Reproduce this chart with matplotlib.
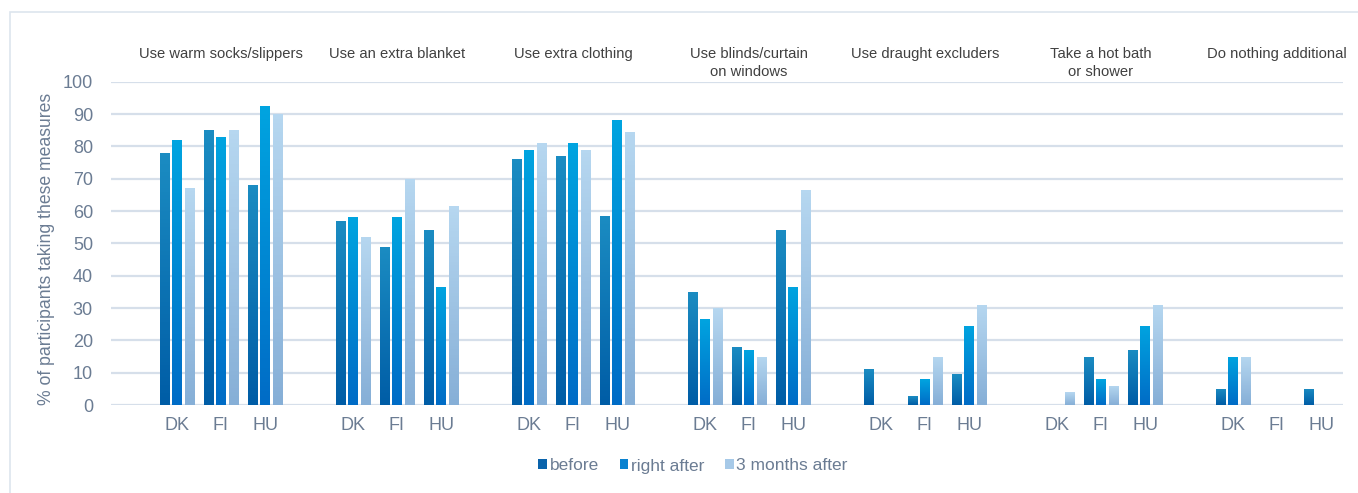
import numpy as np
import matplotlib
matplotlib.use("Agg")
import matplotlib.pyplot as plt
from matplotlib.colors import LinearSegmentedColormap
from matplotlib.patches import Rectangle, Patch

plt.rcParams["font.family"] = ["Liberation Sans", "DejaVu Sans"]

# ---------------------------------------------------------------------------
# Data
# ---------------------------------------------------------------------------
measures = ["Use warm socks/slippers", "Use an extra blanket", "Use extra clothing",
            "Use blinds/curtain\non windows", "Use draught excluders",
            "Take a hot bath\nor shower", "Do nothing additional"]
countries = ["DK", "FI", "HU"]
series = ["before", "right after", "3 months after"]

# one row per measure, columns DK, FI, HU
before = [[78, 85, 68],
          [57, 49, 54],
          [76, 77, 58.5],
          [35, 18, 54],
          [11, 2.7, 9.5],
          [0, 15, 17],
          [5, 0, 5]]
right_after = [[82, 83, 92.5],
               [58, 58, 36.5],
               [79, 81, 88],
               [26.5, 17, 36.5],
               [0, 8, 24.5],
               [0, 8, 24.5],
               [15, 0, 0]]
months_after = [[67, 85, 90],
                [52, 70, 61.5],
                [81, 79, 84.5],
                [30, 15, 66.5],
                [0, 15, 31],
                [4, 6, 31],
                [15, 0, 0]]

# gradient (bottom, top) per series, plus flat legend colour
grad_colors = [("#005da6", "#1b8cc2"), ("#006cc6", "#00a4e0"), ("#86afd7", "#b6d7f0")]
legend_colors = ["#0a63ab", "#0a82d0", "#a6c9e8"]
tick_color = "#6b7c93"

fig = plt.figure(figsize=(13.58, 4.93), dpi=100)
ax = fig.add_axes([111 / 1358, 88 / 493, 1232 / 1358, 323.3 / 493])

# light frame around the chart (right/bottom edges fall outside the image)
fig.patches.append(Rectangle((10 / 1358, -0.1), 1.2, 1 - 11.5 / 493 + 0.1,
                             transform=fig.transFigure, fill=False,
                             edgecolor="#dde5ee", lw=1.2))

n_slot = 4 * len(measures)
width = 0.216
offset = 0.284
grad = np.linspace(0, 1, 64).reshape(-1, 1)

tick_pos, tick_lab = [], []
for k, m in enumerate(measures):
    for c, cname in enumerate(countries):
        xc = 4 * k + 1 + c
        tick_pos.append(xc)
        tick_lab.append(cname)
        vals = [before[k][c], right_after[k][c], months_after[k][c]]
        for s, v in enumerate(vals):
            if v <= 0:
                continue
            bars = ax.bar(xc + (s - 1) * offset, v, width, color="none",
                          edgecolor="none", zorder=3)
            b = bars[0]
            x0, y0 = b.get_xy()
            cmap = LinearSegmentedColormap.from_list("g%d" % s, grad_colors[s])
            im = ax.imshow(grad, extent=[x0, x0 + width, 0, v], origin="lower",
                           aspect="auto", cmap=cmap, zorder=3)
            im.set_clip_path(b)
    ax.text(4 * k + 2, 110.6, m, ha="center", va="top", fontsize=10.6,
            color="#404040", linespacing=1.3, clip_on=False)

ax.set_xlim(-0.5, n_slot - 0.5)
ax.set_ylim(0, 100)
ax.set_yticks(np.arange(0, 101, 10))
ax.set_xticks(tick_pos)
ax.set_xticklabels(tick_lab)
ax.tick_params(axis="both", length=0, labelsize=13, colors=tick_color)
ax.tick_params(axis="y", pad=13)
ax.tick_params(axis="x", pad=9)
ax.grid(axis="y", color="#d6dfea", lw=1.6, zorder=0)
ax.set_axisbelow(True)
for sp in ax.spines.values():
    sp.set_visible(False)

fig.text(47 / 1358, 1 - 249 / 493, "% of participants taking these measures",
         rotation=90, ha="center", va="center", fontsize=12.7, color=tick_color)

handles = [Patch(facecolor=legend_colors[i], label=series[i]) for i in range(3)]
fig.legend(handles=handles, loc="center", bbox_to_anchor=(693 / 1358, 1 - 466 / 493),
           ncol=3, frameon=False, fontsize=12.5, handlelength=0.5, handleheight=0.5,
           handletextpad=0.15, columnspacing=1.2, labelcolor=tick_color)

fig.savefig("out.png", dpi=100)
